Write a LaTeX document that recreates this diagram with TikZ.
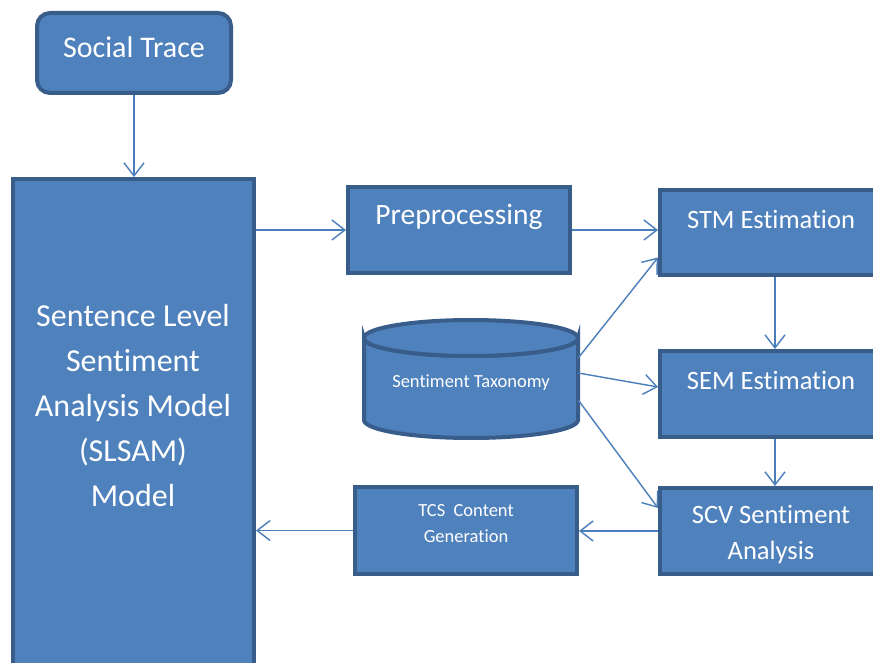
\documentclass[tikz,border=0pt]{standalone}
\usepackage{fontspec}
\setmainfont{Carlito}[Ligatures={NoCommon,NoRequired,NoContextual}, Contextuals=NoAlternate]
\usetikzlibrary{arrows.meta}
\definecolor{boxfill}{HTML}{4F81BD}
\definecolor{boxline}{HTML}{385D8A}
\definecolor{arrowcol}{HTML}{4A7EBB}
\newcommand{\nl}{\kern0pt }
\tikzset{
  box/.style={draw=boxline, fill=boxfill, line width=4pt, inner sep=0pt},
  txt/.style={text=white, align=center, inner sep=0pt},
  conn/.style={draw=arrowcol, line width=1.4pt, -{Straight Barb[length=13pt,width=20pt,line width=1.4pt]}},
}
\begin{document}
\begin{tikzpicture}[x=1pt,y=-1pt]
\useasboundingbox (0,0) rectangle (873,663);
\clip (0,0) rectangle (873,663);
\fill[white] (0,0) rectangle (873,663);
% boxes
\node[box, rounded corners=13pt, minimum width=194pt, minimum height=80pt] (social) at (134,53) {};
\node[box, minimum width=241pt, minimum height=511pt] (slsam) at (133.5,434.5) {};
\node[box, minimum width=222pt, minimum height=86pt] (pre) at (459,230) {};
\node[box, minimum width=240pt, minimum height=85pt] (stm) at (780,232.5) {};
\node[box, minimum width=240pt, minimum height=86pt] (sem) at (780,394) {};
\node[box, minimum width=240pt, minimum height=86pt] (scv) at (780,531) {};
\node[box, minimum width=222pt, minimum height=87pt] (tcs) at (466,530.5) {};
% cylinder
\path[box] (364,338) -- (364,420) arc[start angle=180,end angle=360,x radius=107,y radius=-18] -- (578,338) arc[start angle=0,end angle=-180,x radius=107,y radius=-18] -- cycle;
\path[box] (471,338) ellipse[x radius=107,y radius=18];
\node[inner sep=0pt, minimum width=214pt, minimum height=118pt] (cyl) at (471,379) {};
% texts
\node[txt, font=\fontsize{30}{36}\selectfont] (social-t) at (134,47) {Social Trace};
\node[txt, font=\fontsize{32}{45}\selectfont] (slsam-t) at (133,405) {Sentence Level\\Sent\nl iment\\Analysis Model\\(SLSAM)\\Model};
\node[txt, font=\fontsize{29.5}{34}\selectfont] (pre-t) at (459,217) {Preprocessing};
\node[txt, font=\fontsize{26.5}{32}\selectfont] (stm-t) at (771,219) {STM Est\nl imat\nl ion};
\node[txt, font=\fontsize{26.5}{32}\selectfont] (sem-t) at (771,380) {SEM Est\nl imat\nl ion};
\node[txt, font=\fontsize{26.5}{36}\selectfont] (scv-t) at (771,535) {SCV Sent\nl iment\\Analysis};
\node[txt, font=\fontsize{18.5}{26}\selectfont] (cyl-t) at (471,383) {Sent\nl iment Taxonomy};
\node[txt, font=\fontsize{18.5}{26}\selectfont] (tcs-t) at (466,524) {TCS\ \ Content\\Generat\nl ion};
% connectors
\draw[conn] (social.south) -- (social.south |- slsam.north);
\draw[conn] (pre.west -| slsam.east) -- (pre.west);
\draw[conn] (pre.east) -- (pre.east -| stm.west);
\draw[conn] ([yshift=21pt]cyl.east) -- ([yshift=-25pt]stm.west);
\draw[conn] ([yshift=6pt]cyl.east) -- ([yshift=7pt]sem.west);
\draw[conn] ([yshift=-21pt]cyl.east) -- ([yshift=23pt]scv.west);
\draw[conn] ([xshift=-5pt]stm.south) -- ([xshift=-5pt]sem.north);
\draw[conn] ([xshift=-5pt]sem.south) -- ([xshift=-5pt]scv.north);
\draw[conn] (scv.west) -- (scv.west -| tcs.east);
\draw[conn] (tcs.west) -- (tcs.west -| slsam.east);
\end{tikzpicture}
\end{document}
